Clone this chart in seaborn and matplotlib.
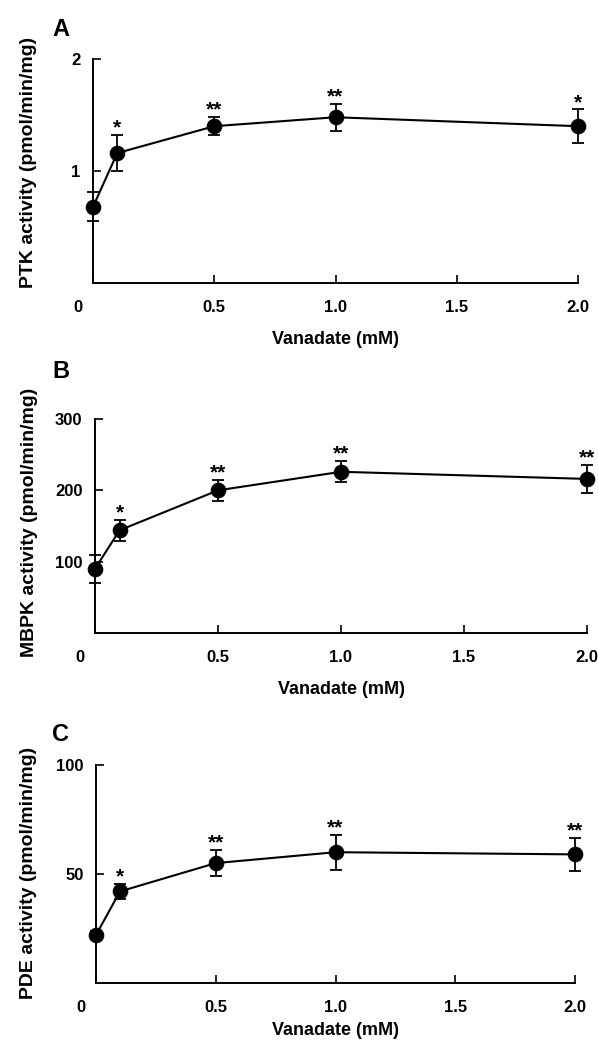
import numpy as np
import pandas as pd
import seaborn as sns
import matplotlib.pyplot as plt
from matplotlib.transforms import ScaledTranslation

# Vanadate concentrations (mM)
vanadate = [0, 0.1, 0.5, 1.0, 2.0]

# Panel A - PTK activity
ptk_mean = [0.68, 1.16, 1.40, 1.48, 1.40]
ptk_err = [0.13, 0.16, 0.08, 0.12, 0.15]
ptk_sig = ['', '*', '**', '**', '*']

# Panel B - MBPK activity
mbpk_mean = [90, 144, 200, 226, 216]
mbpk_err = [20, 15, 15, 15, 20]
mbpk_sig = ['', '*', '**', '**', '**']

# Panel C - PDE activity
pde_mean = [22, 42, 55, 60, 59]
pde_err = [2, 3.5, 6, 8, 7.5]
pde_sig = ['', '*', '**', '**', '**']

x_ticks = [0, 0.5, 1.0, 1.5, 2.0]
x_ticklabels = ['0', '0.5', '1.0', '1.5', '2.0']

sns.set_style('ticks')
plt.rcParams['font.family'] = ['Liberation Sans', 'DejaVu Sans']
plt.rcParams['font.weight'] = 'bold'
plt.rcParams['text.color'] = 'black'
plt.rcParams['axes.labelcolor'] = 'black'
plt.rcParams['xtick.color'] = 'black'
plt.rcParams['ytick.color'] = 'black'

fig = plt.figure(figsize=(5.98, 10.48), dpi=100)

panels = [
    # letter, ylabel, mean, err, sig, ylim, yticks, axes rect, xlabel y, ylabel xy, letter top
    ('A', 'PTK activity (pmol/min/mg)', ptk_mean, ptk_err, ptk_sig, (0, 2), [1, 2],
     [93 / 598, 1 - 283 / 1048, 485 / 598, 224 / 1048], -0.254, (-0.132, 0.54), 18),
    ('B', 'MBPK activity (pmol/min/mg)', mbpk_mean, mbpk_err, mbpk_sig, (0, 300), [100, 200, 300],
     [95 / 598, 1 - 633 / 1048, 492 / 598, 214 / 1048], -0.266, (-0.134, 0.519), 360),
    ('C', 'PDE activity (pmol/min/mg)', pde_mean, pde_err, pde_sig, (0, 100), [50, 100],
     [96 / 598, 1 - 983 / 1048, 479 / 598, 218 / 1048], -0.22, (-0.14, 0.505), 723),
]

for letter, ylab, mean, err, sig, ylim, yticks, rect, xlab_y, ylab_xy, letter_top in panels:
    ax = fig.add_axes(rect)
    df = pd.DataFrame({'x': vanadate, 'y': mean, 'err': err})

    ax.errorbar(df['x'], df['y'], yerr=df['err'], fmt='none', ecolor='black',
                elinewidth=1.3, capsize=4.5, capthick=1.3, clip_on=False, zorder=2)
    sns.lineplot(data=df, x='x', y='y', ax=ax, color='black', linewidth=1.5,
                 marker='o', markersize=10.5, markeredgecolor='black', clip_on=False, zorder=3)

    # significance stars above the error bars
    for xi, yi, ei, s in zip(vanadate, mean, err, sig):
        if s:
            ax.annotate(s, xy=(xi, yi + ei), xytext=(0, 1), textcoords='offset points',
                        ha='center', va='baseline', fontsize=15, fontweight='bold')

    ax.set_xlim(0, 2.0)
    ax.set_ylim(*ylim)
    ax.set_xticks(x_ticks)
    ax.set_xticklabels(x_ticklabels)
    ax.set_yticks(yticks)
    ax.tick_params(direction='in', length=6, width=1.2, labelsize=12, color='black')
    ax.tick_params(axis='x', pad=12)
    ax.tick_params(axis='y', pad=9)
    for lab in ax.get_xticklabels() + ax.get_yticklabels():
        lab.set_fontweight('bold')
    # the "0" label sits left of the y axis in the original
    zero_lab = ax.get_xticklabels()[0]
    zero_lab.set_transform(zero_lab.get_transform() + ScaledTranslation(-0.15, 0, fig.dpi_scale_trans))

    sns.despine(ax=ax)
    for sp in ['left', 'bottom']:
        ax.spines[sp].set_linewidth(1.4)
        ax.spines[sp].set_color('black')

    ax.set_xlabel('Vanadate (mM)', fontsize=13, fontweight='bold', va='center')
    ax.xaxis.set_label_coords(0.5, xlab_y)
    ax.set_ylabel(ylab, fontsize=14, fontweight='bold', va='center', ha='center')
    ax.yaxis.set_label_coords(*ylab_xy)

    fig.text(52 / 598, 1 - letter_top / 1048, letter, fontsize=17, fontweight='bold',
             ha='left', va='top')

fig.savefig('out.png', dpi=100)
